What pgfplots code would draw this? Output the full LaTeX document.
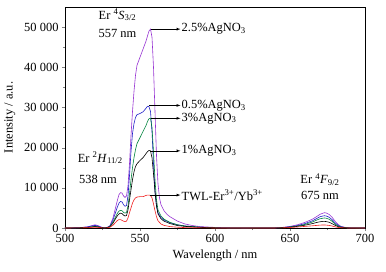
\documentclass[border=0pt]{standalone}
\usepackage{fontspec}
\setmainfont{Liberation Serif}
\usepackage{pgfplots}
\pgfplotsset{compat=1.18}
\definecolor{cpurple}{RGB}{150,50,210}
\definecolor{cblue}{RGB}{30,30,200}
\definecolor{cgreen}{RGB}{0,130,60}
\definecolor{cred}{RGB}{240,30,30}
\begin{document}
\begin{tikzpicture}
\path[use as bounding box] (-65bp,-44bp) rectangle (321bp,228bp);
\begin{axis}[
  scale only axis, width=300bp, height=221bp,
  xmin=500, xmax=700, ymin=0, ymax=55000,
  xtick={500,550,600,650,700}, ytick={0,10000,20000,30000,40000,50000},
  minor x tick num=1, minor y tick num=1,
  tick pos=left, tick align=outside,
  major tick length=3bp, minor tick length=2bp,
  scaled y ticks=false,
  /pgf/number format/.cd, 1000 sep={\ }, assume math mode=true, /pgfplots/.cd,
  tick label style={font=\fontsize{12.5}{14}\selectfont},
  label style={font=\fontsize{12.5}{14}\selectfont},
  xlabel={Wavelength / nm}, ylabel={Intensity / a.u.},
  ylabel style={yshift=2bp},
  every axis plot/.append style={line width=0.6pt},
  clip=false,
]
\addplot[cpurple] coordinates {(500,0)(510,100)(515,300)(518,600)(520,800)(522,600)(524,250)(526,50)(528,100)(530,600)(532,2500)(534,5500)(535,7000)(536,8300)(537,8800)(538,8700)(539,8000)(540,7600)(541,8000)(542,10500)(543,16000)(544,23000)(545,29000)(546,34000)(547,38000)(548,40500)(550,42500)(552,44500)(554,46500)(555,47800)(556,49000)(557,49500)(558,47500)(559,40000)(560,29000)(561,18000)(562,11000)(563,7500)(564,5800)(566,4300)(568,3400)(570,2800)(575,1700)(580,1000)(585,600)(590,350)(600,150)(610,50)(620,0)(640,50)(645,150)(650,400)(655,800)(660,1400)(665,2200)(668,2900)(670,3400)(672,3700)(673,3800)(674,3750)(676,3400)(678,2700)(680,1700)(682,900)(684,400)(687,150)(690,50)(700,0)};
\addplot[cblue] coordinates {(500,0)(510,80)(515,250)(518,500)(520,650)(522,450)(524,200)(526,50)(528,100)(530,500)(532,2000)(534,4200)(535,5300)(536,6200)(537,6600)(538,6500)(539,5800)(540,5400)(541,5600)(542,8000)(543,13000)(544,19000)(545,23500)(546,26000)(547,27500)(548,28200)(550,28500)(552,28900)(554,29800)(555,30300)(556,30200)(557,29000)(558,24000)(559,16000)(560,9000)(561,5500)(562,3800)(564,2600)(566,2000)(570,1300)(575,800)(580,500)(590,200)(600,80)(610,0)(640,30)(645,100)(650,300)(655,600)(660,1100)(665,1800)(668,2400)(670,2800)(672,3000)(673,3050)(674,3000)(676,2700)(678,2100)(680,1300)(682,700)(684,300)(687,100)(690,30)(700,0)};
\addplot[cgreen] coordinates {(500,0)(510,50)(515,150)(518,300)(520,400)(522,300)(524,100)(526,30)(528,80)(530,400)(532,1500)(534,3000)(535,3700)(536,4200)(537,4400)(538,4300)(539,3900)(540,3700)(541,3900)(542,5500)(543,8500)(544,12000)(545,15000)(546,17500)(547,19500)(548,21000)(550,22500)(552,24000)(554,25500)(555,26500)(556,27200)(557,27300)(558,25000)(559,19000)(560,12000)(561,7000)(562,4500)(564,3000)(566,2200)(570,1400)(575,800)(580,500)(590,200)(600,60)(610,0)(640,20)(645,80)(650,250)(655,500)(660,900)(665,1500)(668,2000)(670,2300)(672,2450)(673,2500)(674,2450)(676,2200)(678,1700)(680,1000)(682,500)(684,250)(687,80)(690,20)(700,0)};
\addplot[black] coordinates {(500,0)(510,50)(515,100)(518,250)(520,350)(522,250)(524,100)(526,30)(528,60)(530,300)(532,1200)(534,2500)(535,3100)(536,3500)(537,3700)(538,3600)(539,3200)(540,3000)(541,3100)(542,4500)(543,7000)(544,9500)(545,12000)(546,14000)(547,15300)(548,16000)(550,16800)(552,17500)(554,18500)(555,19000)(556,19300)(557,19200)(558,17500)(559,13500)(560,9000)(561,5500)(562,3500)(564,2300)(566,1700)(570,1100)(575,600)(580,400)(590,150)(600,50)(610,0)(640,20)(645,60)(650,200)(655,400)(660,700)(665,1100)(668,1400)(670,1550)(672,1650)(673,1650)(674,1600)(676,1450)(678,1100)(680,700)(682,350)(684,150)(687,50)(690,10)(700,0)};
\addplot[cred] coordinates {(500,0)(510,30)(515,80)(518,150)(520,200)(522,150)(524,60)(526,20)(528,40)(530,200)(532,700)(534,1500)(535,1900)(536,2100)(537,2100)(538,1900)(539,1700)(540,1600)(541,1700)(542,2500)(543,3800)(544,5000)(545,6200)(546,7000)(547,7500)(548,7700)(550,7800)(552,7800)(554,8100)(555,8200)(556,8200)(557,8100)(558,7500)(559,6000)(560,4300)(561,2800)(562,1800)(564,1000)(566,650)(570,350)(575,200)(580,100)(590,50)(600,0)(640,10)(645,40)(650,120)(655,250)(660,400)(665,550)(668,650)(670,720)(672,750)(673,750)(674,730)(676,650)(678,500)(680,300)(682,150)(684,70)(687,20)(690,0)(700,0)};
\begin{scope}[font=\fontsize{12.5}{14}\selectfont]
\draw[-latex] (axis cs:557.5,49500) -- (axis cs:577,49500);
\node[anchor=west, inner sep=1pt] at (axis cs:577,49500) {2.5\%AgNO\textsubscript{3}};
\draw[-latex] (axis cs:556,30500) -- (axis cs:577,30500);
\node[anchor=west, inner sep=1pt] at (axis cs:577,30500) {0.5\%AgNO\textsubscript{3}};
\draw[-latex] (axis cs:557.5,27300) -- (axis cs:577,27300);
\node[anchor=west, inner sep=1pt] at (axis cs:577,27300) {3\%AgNO\textsubscript{3}};
\draw[-latex] (axis cs:557,19200) -- (axis cs:577,19200);
\node[anchor=west, inner sep=1pt] at (axis cs:577,19200) {1\%AgNO\textsubscript{3}};
\draw[-latex] (axis cs:557,8200) -- (axis cs:577,8200);
\node[anchor=west, inner sep=1pt] at (axis cs:577,8200) {TWL-Er\textsuperscript{3+}/Yb\textsuperscript{3+}};
\node at (axis cs:535,53000) {Er \textsuperscript{4}\textit{S}\textsubscript{3/2}};
\node at (axis cs:535,48300) {557 nm};
\node at (axis cs:523.5,17400) {Er \textsuperscript{2}\textit{H}\textsubscript{11/2}};
\node at (axis cs:522,12000) {538 nm};
\node at (axis cs:670,12000) {Er \textsuperscript{4}\textit{F}\textsubscript{9/2}};
\node at (axis cs:670,8200) {675 nm};
\end{scope}
\end{axis}
\end{tikzpicture}
\end{document}
